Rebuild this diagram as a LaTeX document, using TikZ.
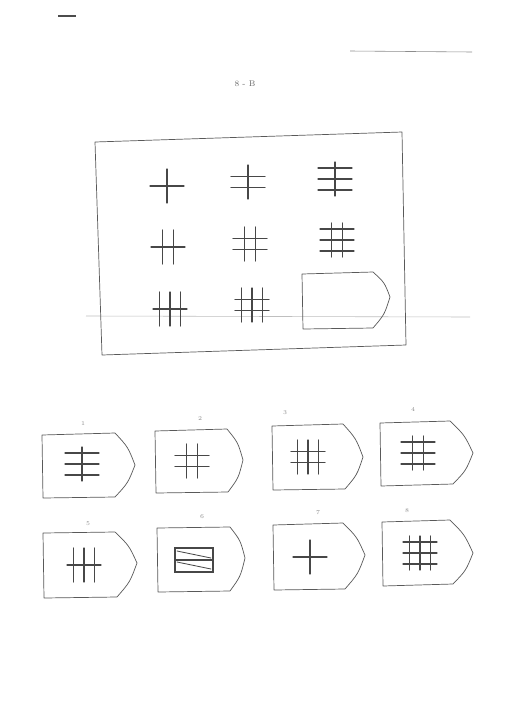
\documentclass[tikz,border=0pt]{standalone}
\usetikzlibrary{calc}
% n vertical and m horizontal strokes round a centre
\newcommand{\hashfig}[4]{% #1 name, #2 centre, #3 verticals, #4 horizontals
  \coordinate (#1) at #2;
  \foreach \i in {1,...,#3}
    \draw[bar] ($(#1)+({(\i-(#3+1)/2)*10.5},-17)$) -- ++(0,34);
  \foreach \j in {1,...,#4}
    \draw[bar] ($(#1)+(-17,{(\j-(#4+1)/2)*11})$) -- ++(34,0);
}
% a card: left top, right top, tip, right bottom, left bottom
\newcommand{\card}[5]{%
  \draw[frame] #1 -- #2
    .. controls ($#2!0.5!#3+(3,-2)$) .. #3
    .. controls ($#3!0.5!#4+(3,2)$) .. #4 -- #5 -- cycle;
}
\begin{document}
\begin{tikzpicture}[x=0.03cm,y=-0.03cm,
  bar/.style={line width=1.05pt,black!72,line cap=round},
  frame/.style={line width=0.6pt,black!65,line join=round},
  scan/.style={line width=0.5pt,black!25},
  num/.style={font=\tiny,text=black!45,inner sep=1pt}]
  \useasboundingbox[fill=white] (0,0) rectangle (518,720);
  % scan marks
  \draw[line width=1pt,black!70] (58,16) -- (76,16);
  \draw[scan,black!45] (350,51) -- (472,52);
  \draw[scan] (86,316) -- (470,317);
  \node[font=\scriptsize,text=black!60] (title) at (245,84) {8 - B};
  % the matrix
  \draw[frame] (95,142) -- (402,132) -- (406,345) -- (102,355) -- cycle;
  \hashfig{m1}{(167,186)}{1}{1}
  \hashfig{m2}{(248,182)}{1}{2}
  \hashfig{m3}{(335,179)}{1}{3}
  \hashfig{m4}{(168,247)}{2}{1}
  \hashfig{m5}{(250,244)}{2}{2}
  \hashfig{m6}{(337,240)}{2}{3}
  \hashfig{m7}{(170,309)}{3}{1}
  \hashfig{m8}{(252,305)}{3}{2}
  \card{(302,274)}{(373,272)}{(390,297)}{(373,328)}{(303,329)}
  % the answer cards
  \card{(42,435)}{(115,433)}{(135,465)}{(115,497)}{(43,498)}
  \card{(155,431)}{(227,429)}{(243,460)}{(228,492)}{(156,493)}
  \card{(272,426)}{(343,424)}{(363,457)}{(345,489)}{(273,490)}
  \card{(380,423)}{(450,421)}{(473,453)}{(453,484)}{(381,486)}
  \card{(43,533)}{(115,532)}{(137,563)}{(117,597)}{(44,598)}
  \card{(157,528)}{(230,527)}{(245,558)}{(230,591)}{(158,592)}
  \card{(273,525)}{(343,523)}{(365,555)}{(345,589)}{(274,590)}
  \card{(382,522)}{(450,520)}{(473,553)}{(453,584)}{(383,586)}
  \hashfig{a1}{(82,464)}{1}{3}
  \hashfig{a2}{(192,461)}{2}{2}
  \hashfig{a3}{(308,457)}{3}{2}
  \hashfig{a4}{(418,453)}{2}{3}
  \hashfig{a5}{(84,565)}{3}{1}
  \hashfig{a7}{(310,557)}{1}{1}
  \hashfig{a8}{(420,553)}{3}{3}
  % card six
  \coordinate (a6) at (194,560);
  \draw[bar,line width=0.9pt] ($(a6)+(-19,-12)$) rectangle ($(a6)+(19,12)$);
  \draw[bar,line width=0.9pt] ($(a6)+(-19,0)$) -- ($(a6)+(19,0)$);
  \draw[bar,line width=0.7pt] ($(a6)+(-17,-9)$) -- ($(a6)+(17,-2)$);
  \draw[bar,line width=0.7pt] ($(a6)+(-17,2)$) -- ($(a6)+(17,9)$);
  % card numbers
  \node[num] (n1) at (83,424) {1};
  \node[num] (n2) at (200,419) {2};
  \node[num] (n3) at (285,413) {3};
  \node[num] (n4) at (413,410) {4};
  \node[num] (n5) at (88,524) {5};
  \node[num] (n6) at (202,517) {6};
  \node[num] (n7) at (318,513) {7};
  \node[num] (n8) at (407,511) {8};
\end{tikzpicture}
\end{document}
